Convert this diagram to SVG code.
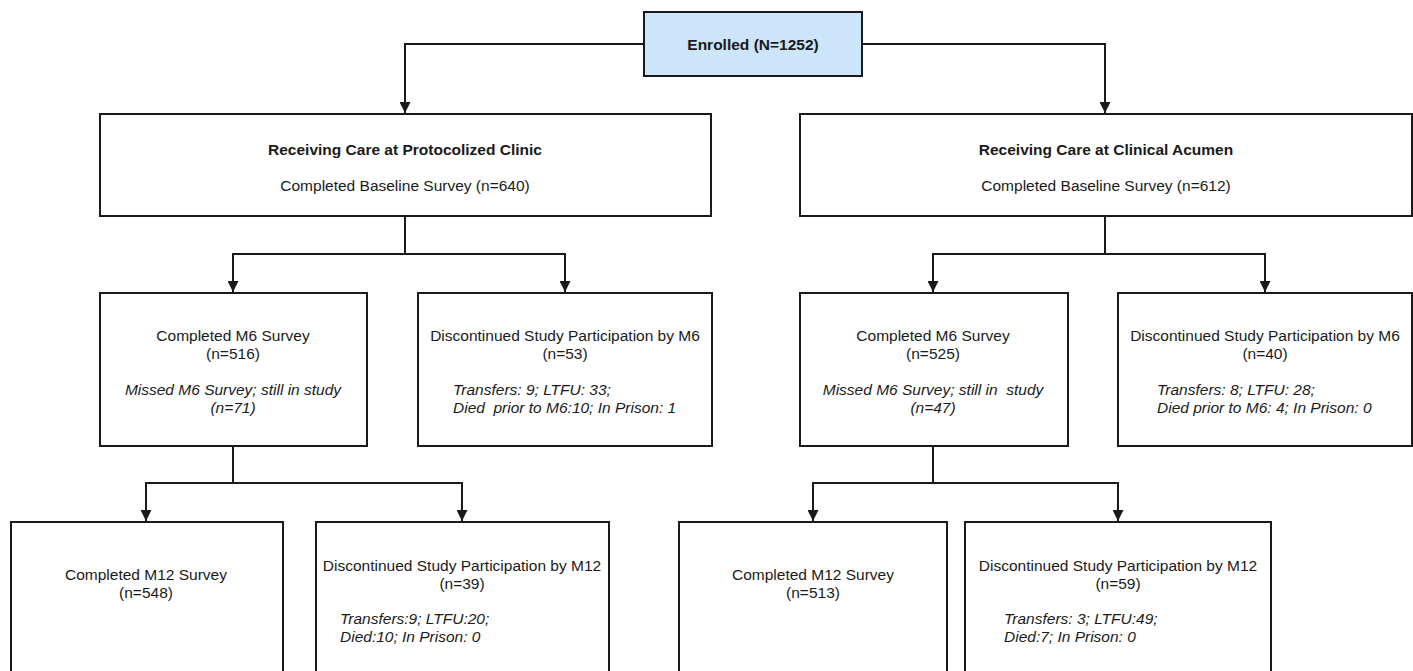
<svg xmlns="http://www.w3.org/2000/svg" width="1413" height="671" viewBox="0 0 1413 671">
<style>
  .box { fill: #ffffff; stroke: #1a1a1a; stroke-width: 2; }
  .start { fill: #cce5fb; stroke: #1a1a1a; stroke-width: 2; }
  .t { font-family: "Liberation Sans", Arial, sans-serif; font-size: 15.5px; fill: #1a1a1a; text-anchor: middle; white-space: pre; }
  .b { font-weight: bold; }
  .i { font-style: italic; }
  .l { text-anchor: start; }
  .edge { fill: none; stroke: #1a1a1a; stroke-width: 2; }
</style>
<defs>
  <marker id="arr" viewBox="0 0 10 10" refX="10" refY="5" markerWidth="11" markerHeight="11" markerUnits="userSpaceOnUse" orient="auto">
    <path d="M0,0 L10,5 L0,10 z" fill="#1a1a1a"/>
  </marker>
</defs>
<rect width="1413" height="671" fill="#ffffff"/>

<g id="connectors">
  <path class="edge" d="M644,44 H405 V113" marker-end="url(#arr)"/>
  <path class="edge" d="M862,44 H1105 V113" marker-end="url(#arr)"/>
  <path class="edge" d="M405,216 V254 H233 V292" marker-end="url(#arr)"/>
  <path class="edge" d="M405,254 H565 V292" marker-end="url(#arr)"/>
  <path class="edge" d="M1105,216 V254 H933 V292" marker-end="url(#arr)"/>
  <path class="edge" d="M1105,254 H1265 V292" marker-end="url(#arr)"/>
  <path class="edge" d="M233,446 V483 H146 V521" marker-end="url(#arr)"/>
  <path class="edge" d="M233,483 H462 V521" marker-end="url(#arr)"/>
  <path class="edge" d="M933,446 V483 H813 V521" marker-end="url(#arr)"/>
  <path class="edge" d="M933,483 H1118 V521" marker-end="url(#arr)"/>
</g>

<g id="enrolled">
  <rect class="start" x="644" y="12" width="218" height="64"/>
  <text class="t b" x="753" y="50">Enrolled (N=1252)</text>
</g>

<g id="protocolized">
  <rect class="box" x="100" y="114" width="611" height="102"/>
  <text class="t b" x="405" y="154.5">Receiving Care at Protocolized Clinic</text>
  <text class="t" x="405" y="190.5">Completed Baseline Survey (n=640)</text>
</g>

<g id="acumen">
  <rect class="box" x="800" y="114" width="612" height="102"/>
  <text class="t b" x="1106" y="154.5">Receiving Care at Clinical Acumen</text>
  <text class="t" x="1106" y="190.5">Completed Baseline Survey (n=612)</text>
</g>

<g id="m6-completed-left">
  <rect class="box" x="100" y="293" width="267" height="153"/>
  <text class="t" x="233" y="340.5">Completed M6 Survey</text>
  <text class="t" x="233" y="358.5">(n=516)</text>
  <text class="t i" x="233" y="394.5">Missed M6 Survey; still in study</text>
  <text class="t i" x="233" y="412.5">(n=71)</text>
</g>

<g id="m6-discontinued-left">
  <rect class="box" x="418" y="293" width="294" height="153"/>
  <text class="t" x="565" y="340.5">Discontinued Study Participation by M6</text>
  <text class="t" x="565" y="358.5">(n=53)</text>
  <text class="t i l" x="453" y="394.5">Transfers: 9; LTFU: 33;</text>
  <text class="t i l" x="453" y="412.5">Died  prior to M6:10; In Prison: 1</text>
</g>

<g id="m6-completed-right">
  <rect class="box" x="800" y="293" width="268" height="153"/>
  <text class="t" x="933" y="340.5">Completed M6 Survey</text>
  <text class="t" x="933" y="358.5">(n=525)</text>
  <text class="t i" x="933" y="394.5">Missed M6 Survey; still in  study</text>
  <text class="t i" x="933" y="412.5">(n=47)</text>
</g>

<g id="m6-discontinued-right">
  <rect class="box" x="1118" y="293" width="294" height="153"/>
  <text class="t" x="1265" y="340.5">Discontinued Study Participation by M6</text>
  <text class="t" x="1265" y="358.5">(n=40)</text>
  <text class="t i l" x="1157" y="394.5">Transfers: 8; LTFU: 28;</text>
  <text class="t i l" x="1157" y="412.5">Died prior to M6: 4; In Prison: 0</text>
</g>

<g id="m12-completed-left">
  <rect class="box" x="11" y="522" width="272" height="170"/>
  <text class="t" x="146" y="579.5">Completed M12 Survey</text>
  <text class="t" x="146" y="597.5">(n=548)</text>
</g>

<g id="m12-discontinued-left">
  <rect class="box" x="316" y="522" width="293" height="170"/>
  <text class="t" x="462" y="570.5">Discontinued Study Participation by M12</text>
  <text class="t" x="462" y="588.5">(n=39)</text>
  <text class="t i l" x="340" y="623.5">Transfers:9; LTFU:20;</text>
  <text class="t i l" x="340" y="641.5">Died:10; In Prison: 0</text>
</g>

<g id="m12-completed-right">
  <rect class="box" x="679" y="522" width="268" height="170"/>
  <text class="t" x="813" y="579.5">Completed M12 Survey</text>
  <text class="t" x="813" y="597.5">(n=513)</text>
</g>

<g id="m12-discontinued-right">
  <rect class="box" x="965" y="522" width="306" height="170"/>
  <text class="t" x="1118" y="570.5">Discontinued Study Participation by M12</text>
  <text class="t" x="1118" y="588.5">(n=59)</text>
  <text class="t i l" x="1004" y="623.5">Transfers: 3; LTFU:49;</text>
  <text class="t i l" x="1004" y="641.5">Died:7; In Prison: 0</text>
</g>
</svg>
